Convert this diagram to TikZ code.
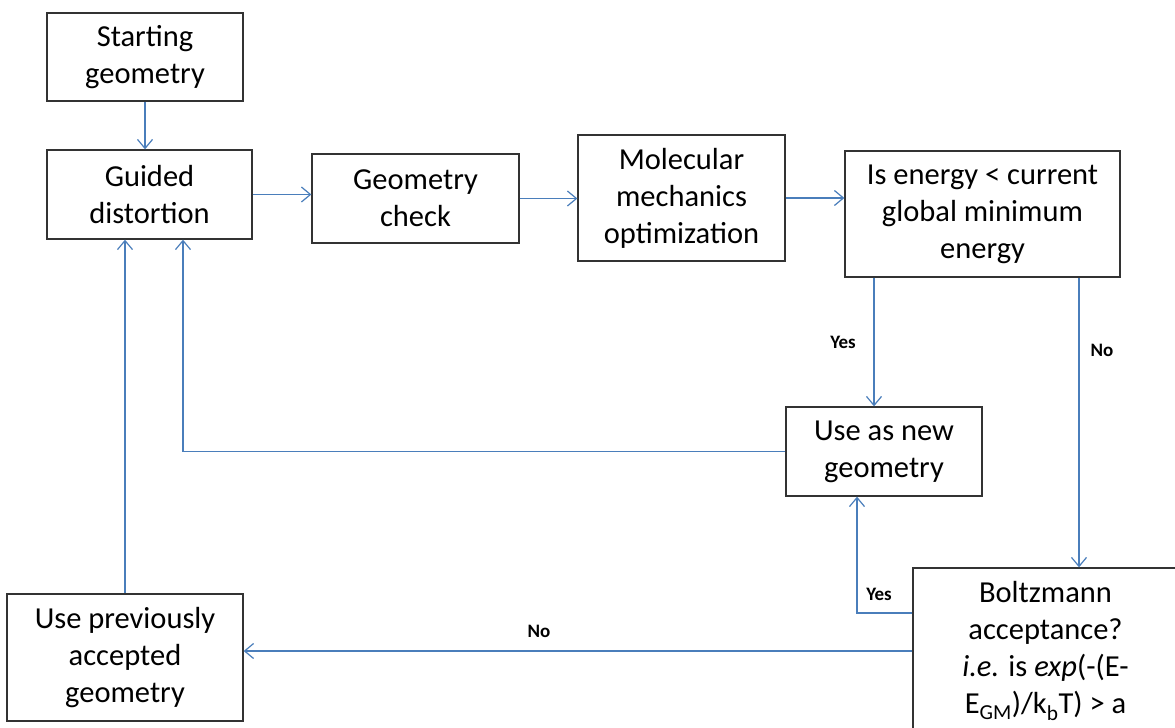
\documentclass[tikz,border=0pt]{standalone}
\usepackage{fontspec}
\setmainfont{Carlito}
\usepackage{tikz}
\usetikzlibrary{arrows.meta}
\definecolor{lineblue}{RGB}{74,126,187}

\tikzset{
  box/.style={rectangle, draw=black!80, line width=1.3pt, align=center, inner sep=0pt,
    font=\fontsize{30.5}{37}\selectfont},
  arr/.style={draw=lineblue, line width=1.2pt, -{Straight Barb[length=9pt, width=15pt]}},
  lbl/.style={font=\fontsize{19}{22}\selectfont\bfseries}
}

\begin{document}
\begin{tikzpicture}[x=1pt, y=-1pt]
      \clip (0, 0) rectangle (1175, 728);

      \node (A) [box, minimum width=196pt, minimum height=88pt] at (145, 57) {Starting\\geometry};
      \node (B) [box, minimum width=205pt, minimum height=89pt] at (149.5, 194.5) {Guided\\distortion};
      \node (C) [box, minimum width=207pt, minimum height=89pt] at (415.5, 198.5) {Geometry\\check};
      \node (D) [box, minimum width=207pt, minimum height=126pt] at (681.5, 198) {Molecular\\mechanics\\optimization};
      \node (E) [box, minimum width=275pt, minimum height=126pt] at (982.5, 214) {Is energy < current\\global minimum\\energy};
      \node (F) [box, minimum width=196pt, minimum height=89pt] at (884, 451.5) {Use as new\\geometry};
      \node (G) [box, minimum width=265pt, minimum height=166pt] at (1045.5, 651) {Boltzmann\\acceptance?\\\textit{i.e.} is \textit{exp}(-(E-\\E\textsubscript{GM})/k\textsubscript{b}T) > a};
      \node (H) [box, minimum width=236pt, minimum height=127pt] at (125, 657.5) {Use previously\\accepted\\geometry};

      % bend points
      \coordinate (yes1) at (874, 0);
      \coordinate (no1) at (1079, 0);
      \coordinate (back) at (183, 0);
      \coordinate (yes2) at (857, 613);

      \draw[arr] (A.south) to (A.south |- B.north);
      \draw[arr] (B.east) to (B.east -| C.west);
      \draw[arr] (C.east) to (C.east -| D.west);
      \draw[arr] (D.east) to (D.east -| E.west);
      \draw[arr] (E.south -| yes1) to (F.north -| yes1);
      \draw[arr] (E.south -| no1) to (G.north -| no1);
      \draw[arr] (F.west) -- (F.west -| back) -- (B.south -| back);
      \draw[arr] (G.west |- yes2) -- (yes2) -- (F.south -| yes2);
      \draw[arr] (G.west) to (G.west -| H.east);
      \draw[arr] (H.north) to (H.north |- B.south);

      \node (L1) [lbl] at (843, 342) {Yes};
      \node (L2) [lbl] at (1102, 350) {No};
      \node (L3) [lbl] at (879, 594) {Yes};
      \node (L4) [lbl] at (539, 631) {No};
    \end{tikzpicture}
\end{document}
